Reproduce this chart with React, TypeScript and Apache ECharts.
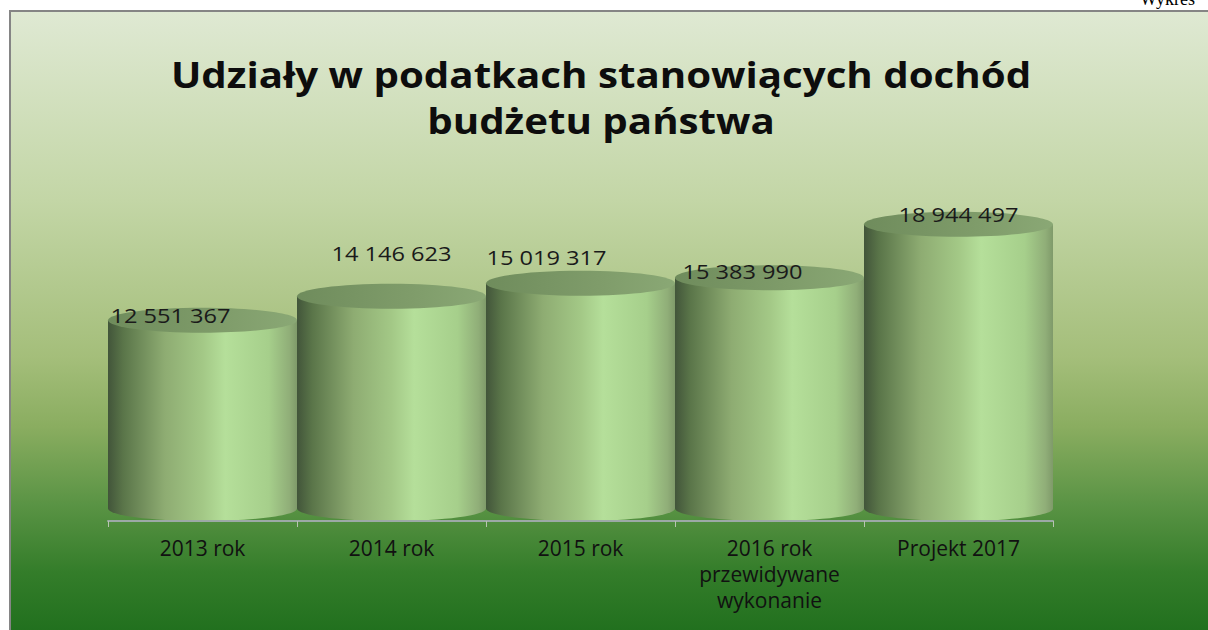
import React, { useEffect, useRef } from "react";
import * as echarts from "echarts";

const categories = [
  "2013 rok",
  "2014 rok",
  "2015 rok",
  "2016 rok\nprzewidywane\nwykonanie",
  "Projekt 2017",
];
const values = [12551367, 14146623, 15019317, 15383990, 18944497];
// label offsets (px) relative to the top ellipse centre of each cylinder
const labelShift = [
  [-32, -5],
  [0, -43],
  [-34, -26],
  [-27, -7],
  [0, -10],
];
const titleText = "Udziały w podatkach stanowiących dochód\nbudżetu państwa";

const fmt = (v: number) => String(v).replace(/\B(?=(\d{3})+(?!\d))/g, " ");

export default function App() {
  const ref = useRef<HTMLDivElement>(null);
  useEffect(() => {
    document.body.style.margin = "0";
    const chart = echarts.init(ref.current!, null, { renderer: "svg" });
    const bodyGrad = () =>
      new echarts.graphic.LinearGradient(0, 0, 1, 0, [
        { offset: 0, color: "#42553a" },
        { offset: 0.08, color: "#5a7549" },
        { offset: 0.3, color: "#8eac72" },
        { offset: 0.5, color: "#a3c886" },
        { offset: 0.62, color: "#b5df9a" },
        { offset: 0.85, color: "#a6cf8b" },
        { offset: 0.96, color: "#90ae78" },
        { offset: 1, color: "#7f9a6a" },
      ]);
    const topGrad = () =>
      new echarts.graphic.LinearGradient(0, 0, 1, 0, [
        { offset: 0, color: "#6f8c5c" },
        { offset: 0.6, color: "#7f9c6a" },
        { offset: 1, color: "#8aa875" },
      ]);
    chart.setOption({
      animation: false,
      backgroundColor: "#ffffff",
      graphic: [
        {
          type: "rect",
          z: -10,
          shape: { x: 10, y: 11, width: 1210, height: 630 },
          style: {
            fill: new echarts.graphic.LinearGradient(0, 0, 0, 1, [
              { offset: 0, color: "#dfe9d3" },
              { offset: 0.3, color: "#c3d6a6" },
              { offset: 0.55, color: "#a4be7a" },
              { offset: 0.66, color: "#8aad60" },
              { offset: 0.78, color: "#5b9445" },
              { offset: 0.89, color: "#347d2a" },
              { offset: 1, color: "#1e6e1c" },
            ]),
            stroke: "#858585",
            lineWidth: 2,
          },
        },
        {
          type: "text",
          z: 10,
          style: {
            text: "Wykres",
            x: 1140,
            y: 8,
            verticalAlign: "bottom",
            fontFamily: "Liberation Serif",
            fontSize: 18,
            fill: "#000",
          },
        },
        {
          type: "text",
          z: 10,
          x: 601,
          y: 52,
          scaleX: 1.15,
          style: {
            text: titleText,
            x: 0,
            y: 0,
            align: "center",
            verticalAlign: "top",
            fontFamily: "Open Sans",
            fontWeight: "bold",
            fontSize: 35,
            lineHeight: 46,
            fill: "#0d0d0d",
          },
        },
      ],
      grid: { left: 108, right: 155, top: 221, bottom: 109 },
      xAxis: {
        type: "category",
        data: categories,
        axisLine: { lineStyle: { color: "#9ca9a6", width: 2 } },
        axisTick: { show: true, length: 6, lineStyle: { color: "#b8c4b2" } },
        axisLabel: {
          interval: 0,
          color: "#111",
          fontFamily: "Open Sans",
          fontSize: 21,
          lineHeight: 26,
          margin: 14,
        },
        z: 5,
      },
      yAxis: {
        type: "value",
        min: 0,
        max: 20000000,
        show: false,
        splitLine: { show: false },
      },
      series: [
        {
          type: "custom",
          data: values.map((v, i) => [i, v]),
          encode: { x: 0, y: 1 },
          z: 3,
          renderItem: (params: any, api: any) => {
            const i = api.value(0);
            const v = api.value(1);
            const top = api.coord([i, v]);
            const base = api.coord([i, 0]);
            const w = api.size([1, 0])[0];
            const rx = w / 2;
            const ry = 12.5;
            const cx = top[0];
            const topY = top[1] - ry;
            const baseY = base[1] - ry;
            const sh = labelShift[params.dataIndex] || [0, -10];
            return {
              type: "group",
              children: [
                {
                  type: "ellipse",
                  shape: { cx, cy: baseY, rx, ry },
                  style: { fill: bodyGrad() },
                },
                {
                  type: "rect",
                  shape: { x: cx - rx, y: topY, width: w, height: baseY - topY },
                  style: { fill: bodyGrad() },
                },
                {
                  type: "ellipse",
                  shape: { cx, cy: topY, rx, ry },
                  style: { fill: topGrad() },
                },
                {
                  type: "text",
                  x: cx + sh[0],
                  y: topY + sh[1],
                  scaleX: 1.18,
                  style: {
                    text: fmt(v),
                    x: 0,
                    y: 0,
                    align: "center",
                    verticalAlign: "middle",
                    fontFamily: "Open Sans",
                    fontSize: 20,
                    fill: "#1a1a1a",
                  },
                },
              ],
            };
          },
        },
      ],
    });
    return () => chart.dispose();
  }, []);
  return <div ref={ref} style={{ width: 1208, height: 630 }} />;
}
